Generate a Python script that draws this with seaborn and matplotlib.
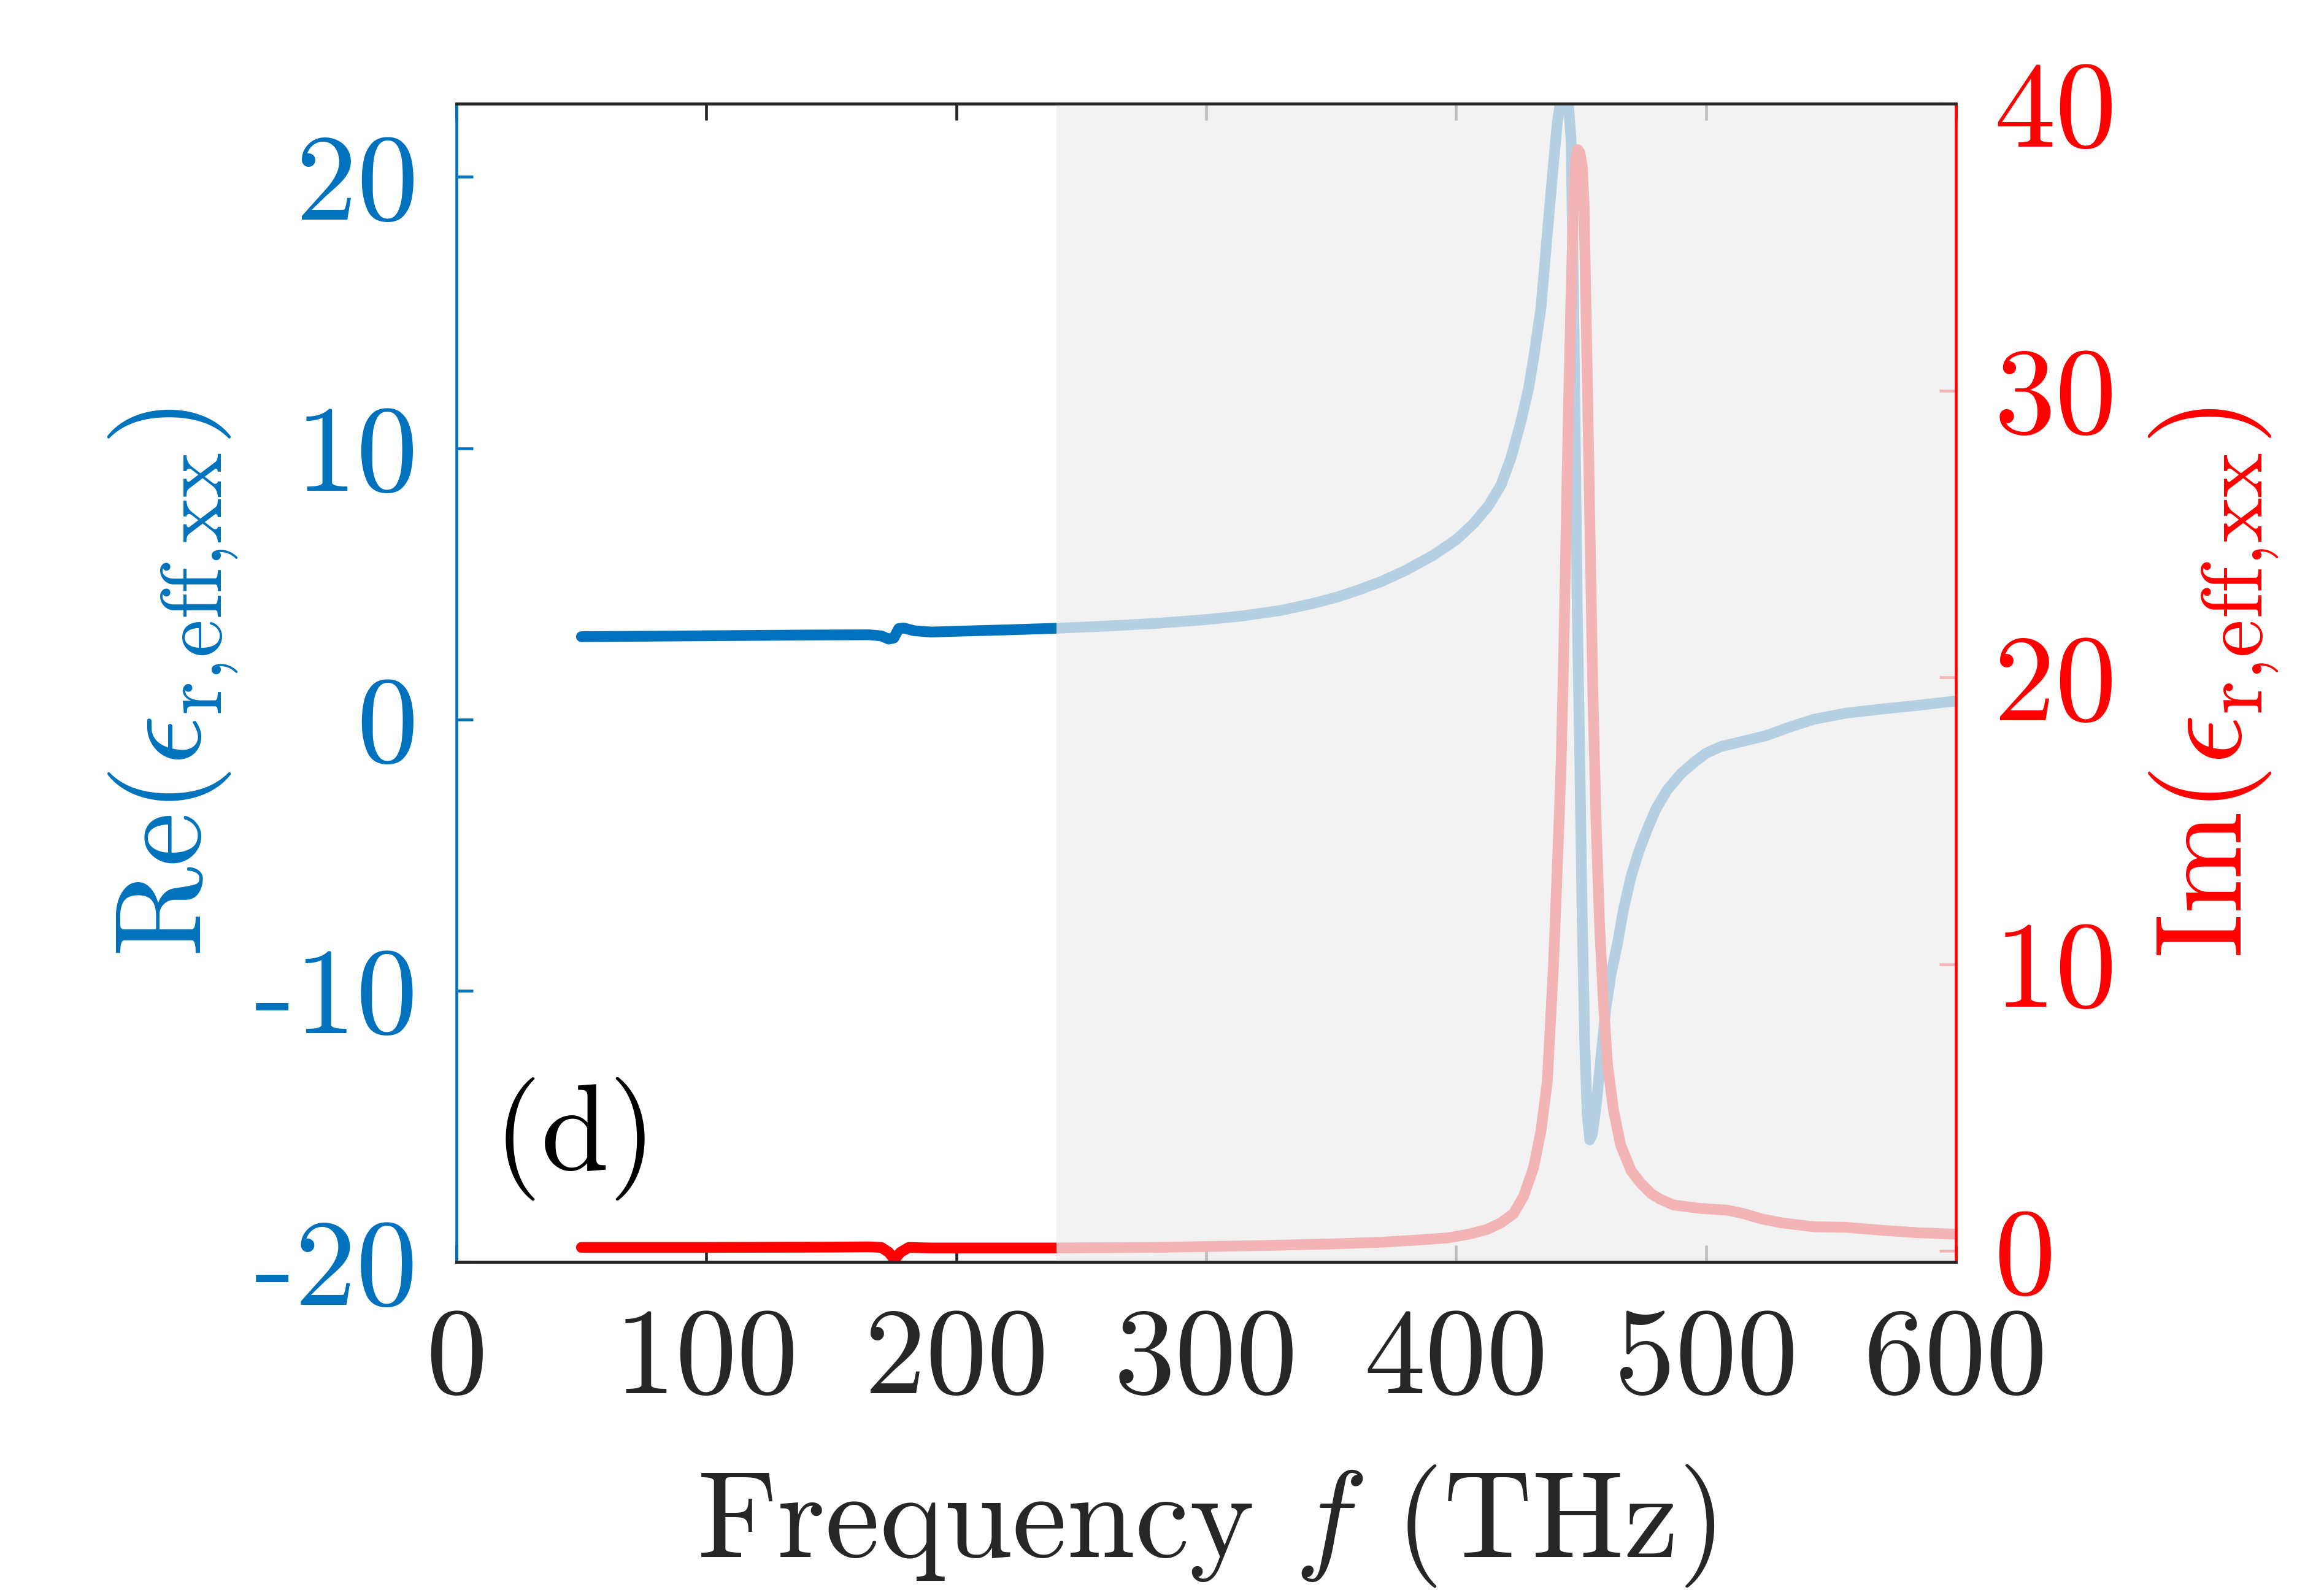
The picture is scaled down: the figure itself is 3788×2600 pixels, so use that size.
import matplotlib
matplotlib.use("Agg")
import matplotlib.pyplot as plt
import seaborn as sns

# Re(eps), left axis
freq_re = [50, 80, 110, 140, 165, 170, 173, 175, 177, 179, 183, 190, 200, 220, 240,
           260, 280, 300, 315, 330, 343, 352, 360, 370, 380, 391, 400, 407, 413, 418, 422, 426,
           429, 431, 434, 436.5, 438.5, 440.5, 442, 443.5, 445, 446, 447, 448, 448.5,
           449.5, 450.5, 451.5, 452.5, 453.5, 454.5, 456, 458, 460, 462, 464.5, 467,
           470, 473, 476.5, 480, 484.5, 490, 495, 500, 506, 515, 524, 533, 543, 556,
           570, 585, 600]
re_eps = [3.05, 3.07, 3.09, 3.11, 3.12, 3.08, 2.96, 3.0, 3.35, 3.37, 3.27, 3.22, 3.25, 3.30, 3.36,
          3.44, 3.54, 3.68, 3.82, 4.02, 4.28, 4.50, 4.74, 5.08, 5.50, 6.06, 6.62, 7.22, 7.88, 8.65, 9.65, 11.0,
          12.2, 13.3, 15.2, 17.9, 20.0, 22.0, 22.9, 23.1, 22.6, 21.4, 15.6, 8.0, 4.0,
          -1.5, -7.5, -12.0, -14.6, -15.5, -15.3, -14.3, -12.4, -10.6, -9.4, -8.3, -7.0,
          -5.8, -4.9, -4.05, -3.3, -2.6, -2.0, -1.6, -1.25, -1.0, -0.8, -0.6, -0.3, 0.0, 0.23,
          0.38, 0.52, 0.68]

# Im(eps), right axis
freq_im = [50, 100, 150, 165, 170, 173, 175.3, 177.7, 181, 190, 200, 240, 280, 320, 350,
           370, 385, 396.5, 405, 412.5, 418, 423, 427, 431, 434, 436.5, 439, 441, 442,
           443, 444, 445, 446, 447, 447.8, 448.6, 449.5, 450.5, 451.2, 452.5, 453.6,
           454.7, 456, 457.4, 459, 460.6, 463, 465.8, 470, 474, 478, 481.7, 487, 497.7,
           508.5, 515, 522, 530, 543, 556, 570, 585, 600]
im_eps = [0.12, 0.12, 0.13, 0.14, 0.12, -0.05, -0.3, -0.05, 0.12, 0.10, 0.10, 0.10, 0.12, 0.18, 0.24,
          0.30, 0.38, 0.45, 0.58, 0.75, 0.98, 1.3, 1.9, 2.9, 4.2, 5.9, 10.0, 14.5, 16.9,
          20.5, 25.0, 29.5, 33.3, 36.5, 38.0, 38.4, 38.3, 37.8, 36.5, 30.5, 25.0,
          19.6, 15.0, 11.4, 8.6, 6.5, 4.9, 3.7, 2.8, 2.35, 2.0, 1.8, 1.6, 1.48,
          1.42, 1.3, 1.12, 0.98, 0.84, 0.82, 0.72, 0.63, 0.58]

x_ticks = [0, 100, 200, 300, 400, 500, 600]
re_ticks = [-20, -10, 0, 10, 20]
im_ticks = [0, 10, 20, 30, 40]
shade_from, shade_to = 240, 600

blue = "#0072BD"
red = "#FF0000"
dark = "#262626"
fs = 48

sns.set_theme(style="white")
plt.rcParams.update({
    "font.family": "cmr10",
    "mathtext.fontset": "cm",
    "axes.unicode_minus": False,
    "axes.linewidth": 1.1,
    "axes.edgecolor": dark,
})

fig = plt.figure(figsize=(3788 / 300, 2600 / 300), dpi=300)
ax = fig.add_axes([744 / 3788, 1 - 2057 / 2600, (3188 - 744) / 3788, (2057 - 169) / 2600])
ax2 = ax.twinx()

sns.lineplot(x=freq_re, y=re_eps, ax=ax, color=blue, linewidth=4.2)
sns.lineplot(x=freq_im, y=im_eps, ax=ax2, color=red, linewidth=4.2)

ax.set_xlim(0, 600)
ax.set_ylim(-20, 22.7)
ax2.set_ylim(-0.385, 40)

# grey veil over the high-frequency part (covers lines and ticks)
ax2.axvspan(shade_from, shade_to, facecolor="#EEEEEE", alpha=0.76,
            linewidth=0, zorder=3)

ax.set_xticks(x_ticks)
ax.set_xticklabels([str(v) for v in x_ticks])
ax.set_yticks(re_ticks)
ax.set_yticklabels([str(v) for v in re_ticks])
ax2.set_yticks(im_ticks)
ax2.set_yticklabels([str(v) for v in im_ticks])

ax.tick_params(axis="x", direction="in", top=True, bottom=True, length=6.5, width=1.1,
               colors=dark, labelsize=fs, pad=18)
ax.tick_params(axis="y", direction="in", left=True, right=False, length=6.5, width=1.1,
               colors=blue, labelsize=fs, pad=15)
ax2.tick_params(axis="y", direction="in", left=False, right=True, length=6.5, width=1.1,
                colors=red, labelsize=fs, pad=15)

ax.spines["right"].set_visible(False)
ax.spines["left"].set_color(blue)
ax2.spines["left"].set_visible(False)
ax2.spines["right"].set_color(red)
for s in ["top", "bottom"]:
    ax2.spines[s].set_color(dark)
for s in ax2.spines.values():
    s.set_zorder(5)

ax.set_xlabel(r"Frequency $f$ (THz)", fontsize=fs, color=dark, labelpad=18)
ax.set_ylabel(r"Re($\epsilon_{\rm r{,}eff{,}xx}$)", fontsize=fs, color=blue, labelpad=6)
ax2.set_ylabel(r"Im($\epsilon_{\rm r{,}eff{,}xx}$)", fontsize=fs, color=red, labelpad=12)

ax.text(15, -16.6, "(d)", fontsize=fs, color="black", va="baseline")

fig.savefig("out.png", dpi=300)
